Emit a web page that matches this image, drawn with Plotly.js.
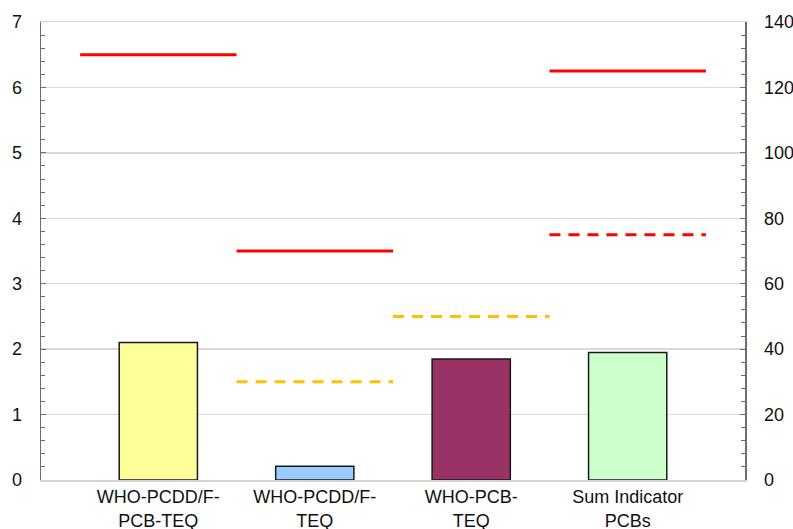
<!DOCTYPE html>
<html>
<head>
<meta charset="utf-8">
<script src="https://cdn.plot.ly/plotly-3.0.1.min.js"></script>
<style>
  html, body { margin: 0; padding: 0; background: #fff; }
  #chart { width: 793px; height: 529px; }
</style>
</head>
<body>
<div id="chart"></div>
<script>
// Categories along the x axis
const categories = ["WHO-PCDD/F-<br>PCB-TEQ", "WHO-PCDD/F-<br>TEQ", "WHO-PCB-<br>TEQ", "Sum Indicator<br>PCBs"];

// Measured levels: first three in pg TEQ/g (left axis), last in ng/g (right axis)
const teqValues = [2.1, 0.21, 1.85];
const sumPcbValue = 39;
const barColors = ["#FFFF99", "#99CCFF", "#993366", "#CCFFCC"];

// Limits (solid red) and action levels (dashed) per category
const maxLevelsLeft = [6.5, 3.5, null];      // left axis
const actionLevelsLeft = [null, 1.5, 2.5];   // left axis
const maxLevelSum = 125;                     // right axis
const actionLevelSum = 75;                   // right axis

const idx = categories.map((_, i) => i);
const traces = [];

// Bars for TEQ values (left axis)
traces.push({
  type: "bar",
  x: idx.slice(0, 3),
  y: teqValues,
  width: 0.5,
  marker: { color: barColors.slice(0, 3), line: { color: "#1a1a1a", width: 1.5 } },
  yaxis: "y",
  hoverinfo: "y"
});

// Bar for indicator PCB sum (right axis)
traces.push({
  type: "bar",
  x: [3],
  y: [sumPcbValue],
  width: 0.5,
  marker: { color: barColors[3], line: { color: "#1a1a1a", width: 1.5 } },
  yaxis: "y2",
  hoverinfo: "y"
});

function levelLine(i, value, color, dash, axis) {
  return {
    type: "scatter",
    mode: "lines",
    x: [i - 0.5, i + 0.5],
    y: [value, value],
    yaxis: axis,
    line: { color: color, width: 3, dash: dash },
    hoverinfo: "y"
  };
}

maxLevelsLeft.forEach((v, i) => { if (v !== null) traces.push(levelLine(i, v, "#FF0000", "solid", "y")); });
actionLevelsLeft.forEach((v, i) => { if (v !== null) traces.push(levelLine(i, v, "#FFC000", "11px,8px", "y")); });
traces.push(levelLine(3, maxLevelSum, "#FF0000", "solid", "y2"));
traces.push(levelLine(3, actionLevelSum, "#FF0000", "11px,8px", "y2"));

const tickFont = { family: "Liberation Sans, Arial, sans-serif", size: 18, color: "#111111" };

const layout = {
  width: 793,
  height: 529,
  margin: { l: 41, r: 48, t: 22, b: 49 },
  paper_bgcolor: "#ffffff",
  plot_bgcolor: "#ffffff",
  showlegend: false,
  barmode: "overlay",
  xaxis: {
    range: [-0.75, 3.75],
    tickvals: idx,
    ticktext: categories,
    ticks: "",
    showgrid: false,
    zeroline: false,
    showline: true,
    mirror: true,
    linecolor: "#d4d4d4",
    linewidth: 1.5,
    tickfont: { family: "Liberation Sans, Arial, sans-serif", size: 18, color: "#111111" },
    fixedrange: true
  },
  yaxis: {
    range: [0, 7],
    dtick: 1,
    tick0: 0,
    ticks: "inside",
    ticklen: 5,
    tickcolor: "#6e6e6e",
    showline: true,
    linecolor: "#6e6e6e",
    linewidth: 1.5,
    showgrid: true,
    gridcolor: "#d9d9d9",
    gridwidth: 1.5,
    zeroline: false,
    tickfont: tickFont,
    ticklabelstandoff: 14,
    minor: { ticks: "inside", dtick: 0.2, ticklen: 4, tickcolor: "#6e6e6e", showgrid: false },
    fixedrange: true
  },
  yaxis2: {
    range: [0, 140],
    dtick: 20,
    tick0: 0,
    overlaying: "y",
    side: "right",
    ticks: "inside",
    ticklen: 5,
    tickcolor: "#6e6e6e",
    showline: true,
    linecolor: "#6e6e6e",
    linewidth: 1.5,
    showgrid: false,
    zeroline: false,
    tickfont: tickFont,
    ticklabelstandoff: 14,
    minor: { ticks: "inside", dtick: 4, ticklen: 4, tickcolor: "#6e6e6e", showgrid: false },
    fixedrange: true
  }
};

Plotly.newPlot("chart", traces, layout, { displayModeBar: false, staticPlot: true });
</script>
</body>
</html>
